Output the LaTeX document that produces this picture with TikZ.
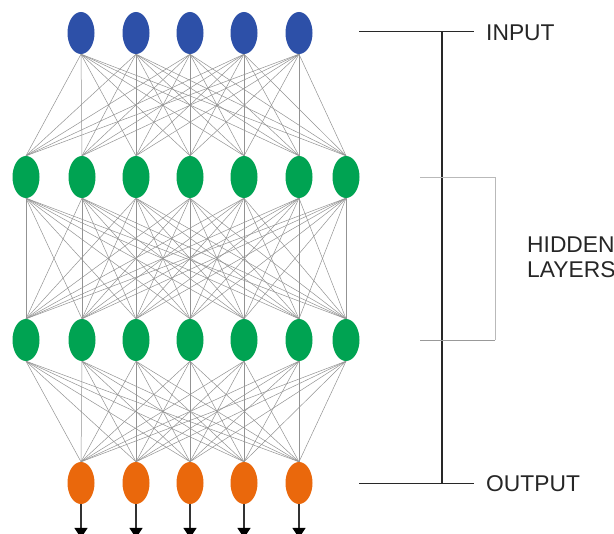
\documentclass[tikz,border=0pt]{standalone}
\usepackage{fontspec}
\setmainfont{Liberation Sans}
\usetikzlibrary{shapes.geometric,arrows.meta}
\definecolor{nblue}{RGB}{45,80,168}
\definecolor{ngreen}{RGB}{0,163,82}
\definecolor{norange}{RGB}{234,104,12}
\definecolor{brk}{RGB}{40,40,40}
\tikzset{
  neuron/.style={ellipse,minimum width=27pt,minimum height=42pt,inner sep=0pt,draw=none},
  inneuron/.style={neuron,fill=nblue},
  hidneuron/.style={neuron,fill=ngreen},
  outneuron/.style={neuron,fill=norange},
  link/.style={draw=gray!85,line width=0.5pt},
  outarrow/.style={draw=black!80,line width=1.1pt,-{Triangle[width=13pt,length=10pt,color=black]}},
  bracket/.style={draw=brk,line width=1.3pt},
  thinbracket/.style={draw=gray!55,line width=0.7pt},
  lbl/.style={font=\fontsize{22.8}{25}\selectfont,inner sep=0pt,text=black!85},
}
\begin{document}
\begin{tikzpicture}[x=1pt,y=-1pt]
\fill[white] (0,0) rectangle (614,534);
\useasboundingbox (0,0) rectangle (614,534);
% input
\foreach \i/\x in {1/81,2/136,3/190,4/244,5/299}
  \node[inneuron] (i\i) at (\x,33) {};
% hidden 1
\foreach \i/\x in {1/26,2/82,3/136,4/190,5/244,6/299,7/346}
  \node[hidneuron] (a\i) at (\x,177) {};
% hidden 2
\foreach \i/\x in {1/26,2/82,3/136,4/190,5/244,6/299,7/346}
  \node[hidneuron] (b\i) at (\x,340) {};
% output
\foreach \i/\x in {1/81,2/136,3/190,4/244,5/299}
  \node[outneuron] (o\i) at (\x,483) {};
% links
\foreach \i in {1,...,5}
  \foreach \j in {1,...,7}
    \draw[link] (i\i.south) -- (a\j.north);
\foreach \i in {1,...,7}
  \foreach \j in {1,...,7}
    \draw[link] (a\i.south) -- (b\j.north);
\foreach \i in {1,...,7}
  \foreach \j in {1,...,5}
    \draw[link] (b\i.south) -- (o\j.north);
% output arrows
\foreach \i/\x in {1/81,2/136,3/190,4/244,5/299}{
  \coordinate (t\i) at (\x,538);
  \draw[outarrow] (o\i.south) -- (t\i);
}
% right bracket
\coordinate (inl) at (359,31.5);
\coordinate (inr) at (474,31.5);
\coordinate (vt) at (442,31.5);
\coordinate (vb) at (442,483.5);
\coordinate (outl) at (359,483.5);
\coordinate (outr) at (474,483.5);
\draw[bracket] (inl) -- (inr);
\draw[bracket] (vt) -- (vb);
\draw[bracket] (outl) -- (outr);
\coordinate (h1) at (420,177);
\coordinate (h2) at (495,177);
\coordinate (h3) at (495,340);
\coordinate (h4) at (420,340);
\draw[thinbracket] (h1) -- (h2) -- (h3);
\draw[draw=gray!80,line width=0.8pt] (h3) -- (h4);
% labels
\node[lbl,anchor=base west] (tin) at (486,40.5) {INPUT};
\node[lbl,anchor=base west] (tout) at (486,491.5) {OUTPUT};
\node[lbl,anchor=base west] (th1) at (527,253) {HIDDEN};
\node[lbl,anchor=base west] (th2) at (527,277.5) {LAYERS};
\end{tikzpicture}
\end{document}
